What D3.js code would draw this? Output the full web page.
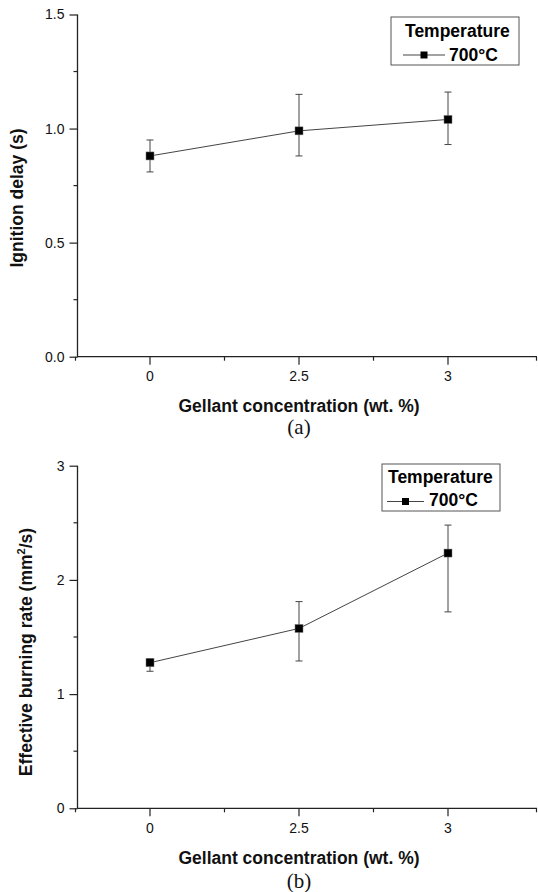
<!DOCTYPE html>
<html>
<head>
<meta charset="utf-8">
<script src="https://cdn.jsdelivr.net/npm/d3@7"></script>
<style>
  body { margin: 0; background: #fff; }
  svg { display: block; font-family: "Liberation Sans", Arial, sans-serif; }
</style>
</head>
<body>
<svg id="chart" width="538" height="892"></svg>
<script>
// gellant concentration categories (wt. %)
var categories = ['0', '2.5', '3'];
// (a) ignition delay (s)
var delayMean = [0.88, 0.99, 1.04];
var delayLow = [0.81, 0.88, 0.93];
var delayHigh = [0.95, 1.15, 1.16];
// (b) effective burning rate (mm2/s)
var rateMean = [1.275, 1.575, 2.235];
var rateLow = [1.20, 1.29, 1.72];
var rateHigh = [1.31, 1.81, 2.48];
var legendTitle = 'Temperature';
var seriesName = '700°C';

var svg = d3.select('#chart');

var panels = [
  {
    mean: delayMean, low: delayLow, high: delayHigh,
    domain: [0, 1.5], majors: [0, 0.5, 1.0, 1.5], minors: [0.25, 0.75, 1.25], fmt: d3.format('.1f'),
    top: 14.5, bottom: 356.7, ytitle: 'Ignition delay (s)', ytx: 23, yty: 198,
    xlabY: 381, xtitleY: 411.5, tag: '(a)', tagY: 434,
    legend: { x: 391, y: 17, w: 128, h: 48, tx: 405, ty1: 37, ty2: 61, lx1: 403, lx2: 445, ly: 55, nx: 449 }
  },
  {
    mean: rateMean, low: rateLow, high: rateHigh,
    domain: [0, 3], majors: [0, 1, 2, 3], minors: [0.5, 1.5, 2.5], fmt: d3.format('d'),
    top: 465.7, bottom: 808.3, ytitle: 'Effective burning rate (mm', ytx: 32, yty: 652,
    xlabY: 832.5, xtitleY: 863.5, tag: '(b)', tagY: 888,
    legend: { x: 382, y: 464, w: 118, h: 47, tx: 388, ty1: 483, ty2: 506, lx1: 387, lx2: 424, ly: 501.5, nx: 429 }
  }
];

var left = 77.5, right = 537;
var x = d3.scalePoint().domain(categories).range([75.5, 522.5]).padding(0.5);
var step = x.step();

panels.forEach(function(p) {
  var g = svg.append('g');
  var y = d3.scaleLinear().domain(p.domain).range([p.bottom, p.top]);

  // y axis
  g.append('g').attr('transform', 'translate(' + left + ',0)')
    .call(d3.axisLeft(y).tickValues(p.majors).tickFormat(p.fmt).tickSize(8).tickPadding(5).tickSizeOuter(0))
    .call(function(a) {
      a.select('.domain').attr('stroke', '#222').attr('stroke-width', 1.3).attr('d', 'M0,' + y(p.domain[1]) + 'V' + (y(0) + 0.5));
      a.selectAll('.tick line').attr('stroke', '#222').attr('stroke-width', 1.2);
      a.selectAll('.tick text').attr('font-size', 14).attr('fill', '#111').attr('font-family', '"Liberation Sans", Arial, sans-serif');
    });
  g.append('g').selectAll('line').data(p.minors).enter().append('line')
    .attr('x1', left - 4).attr('x2', left).attr('y1', function(d) { return y(d); }).attr('y2', function(d) { return y(d); })
    .attr('stroke', '#222').attr('stroke-width', 1.2);

  // x axis
  var base = y(0);
  g.append('line').attr('x1', left).attr('x2', right).attr('y1', base).attr('y2', base)
    .attr('stroke', '#222').attr('stroke-width', 1.3);
  g.append('g').selectAll('line').data(categories).enter().append('line')
    .attr('x1', function(d) { return x(d); }).attr('x2', function(d) { return x(d); })
    .attr('y1', base).attr('y2', base + 8).attr('stroke', '#222').attr('stroke-width', 1.2);
  var mids = [x(categories[0]) - step / 2, x(categories[0]) + step / 2, x(categories[1]) + step / 2, right - 0.5];
  g.append('g').selectAll('line').data(mids).enter().append('line')
    .attr('x1', function(d) { return d; }).attr('x2', function(d) { return d; })
    .attr('y1', base).attr('y2', base + 4).attr('stroke', '#222').attr('stroke-width', 1.2);
  g.append('g').selectAll('text').data(categories).enter().append('text')
    .attr('x', function(d) { return x(d); }).attr('y', p.xlabY)
    .attr('text-anchor', 'middle').attr('font-size', 14).attr('fill', '#111').text(function(d) { return d; });

  // titles
  g.append('text').attr('x', 299).attr('y', p.xtitleY).attr('text-anchor', 'middle')
    .attr('font-size', 17.5).attr('font-weight', 'bold').attr('fill', '#111').text('Gellant concentration (wt. %)');
  var yt = g.append('text').attr('transform', 'translate(' + p.ytx + ',' + p.yty + ') rotate(-90)')
    .attr('text-anchor', 'middle').attr('font-size', 17.5).attr('font-weight', 'bold').attr('fill', '#111');
  if (p.tag === '(b)') {
    yt.append('tspan').text(p.ytitle);
    yt.append('tspan').attr('font-size', 11).attr('dy', -7).text('2');
    yt.append('tspan').attr('dy', 7).text('/s)');
  } else {
    yt.text(p.ytitle);
  }
  g.append('text').attr('x', 299).attr('y', p.tagY).attr('text-anchor', 'middle')
    .attr('font-family', '"Liberation Serif", "Times New Roman", serif').attr('font-size', 21).attr('fill', '#111').text(p.tag);

  // data
  var pts = categories.map(function(c, i) { return { c: c, m: p.mean[i], lo: p.low[i], hi: p.high[i] }; });
  g.append('path').datum(pts)
    .attr('d', d3.line().x(function(d) { return x(d.c); }).y(function(d) { return y(d.m); }))
    .attr('fill', 'none').attr('stroke', '#444').attr('stroke-width', 1);
  var eb = g.append('g').selectAll('g').data(pts).enter().append('g');
  eb.append('line').attr('x1', function(d) { return x(d.c); }).attr('x2', function(d) { return x(d.c); })
    .attr('y1', function(d) { return y(d.lo); }).attr('y2', function(d) { return y(d.hi); })
    .attr('stroke', '#444').attr('stroke-width', 1);
  ['lo', 'hi'].forEach(function(k) {
    eb.append('line').attr('x1', function(d) { return x(d.c) - 3.5; }).attr('x2', function(d) { return x(d.c) + 3.5; })
      .attr('y1', function(d) { return y(d[k]); }).attr('y2', function(d) { return y(d[k]); })
      .attr('stroke', '#444').attr('stroke-width', 1);
  });
  eb.append('rect').attr('x', function(d) { return x(d.c) - 4; }).attr('y', function(d) { return y(d.m) - 4; })
    .attr('width', 8).attr('height', 8).attr('fill', '#000').attr('stroke', '#777').attr('stroke-width', 0.5);

  // legend
  var L = p.legend;
  var lg = g.append('g');
  lg.append('rect').attr('x', L.x).attr('y', L.y).attr('width', L.w).attr('height', L.h)
    .attr('fill', '#fff').attr('stroke', '#555').attr('stroke-width', 1);
  lg.append('text').attr('x', L.tx).attr('y', L.ty1).attr('font-size', 17.5).attr('font-weight', 'bold').attr('fill', '#000').text(legendTitle);
  lg.append('line').attr('x1', L.lx1).attr('x2', L.lx2).attr('y1', L.ly).attr('y2', L.ly).attr('stroke', '#444').attr('stroke-width', 1);
  lg.append('rect').attr('x', (L.lx1 + L.lx2) / 2 - 3.5).attr('y', L.ly - 3.5).attr('width', 7).attr('height', 7).attr('fill', '#000');
  lg.append('text').attr('x', L.nx).attr('y', L.ty2).attr('font-size', 17.5).attr('font-weight', 'bold').attr('fill', '#000').text(seriesName);
});
</script>
</body>
</html>
